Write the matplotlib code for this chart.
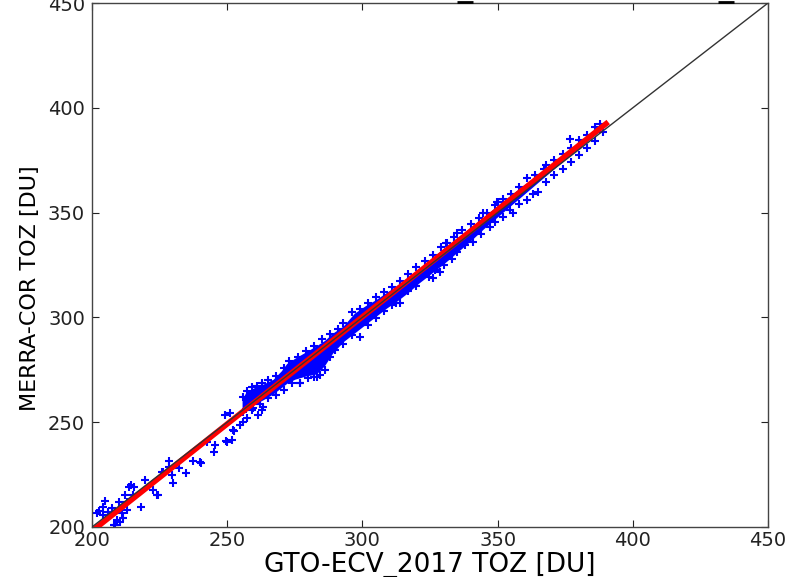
#!/usr/bin/env python3
"""
plot.py — GTO-ECV vs MERRA-COR total ozone scatter.
"""
import matplotlib
matplotlib.use("Agg")
import matplotlib.pyplot as plt

# dense core of the cloud (envelope)
band_x = [255.5, 257, 260, 263, 267, 270, 272, 275, 279, 283, 286, 289, 293, 297,
          301, 305, 309, 313, 317, 321, 325, 330, 335, 340, 345, 350, 355, 360,
          365, 370, 375, 380, 385, 388]
band_lo = [257.0, 256.5, 258.5, 260.5, 263.5, 266.5, 268.5, 270.5, 272.0, 273.0,
           277.0, 283.0, 288.5, 292.5, 296.5, 300.5, 304.5, 308.0, 312.0, 316.5,
           320.5, 325.5, 331.0, 336.5, 342.5, 348.0, 353.5, 359.0, 364.5, 370.0,
           375.5, 380.5, 386.0, 389.0]
band_hi = [261.0, 264.5, 266.5, 268.0, 270.5, 274.5, 278.0, 280.5, 283.5, 286.5,
           289.0, 292.5, 296.0, 302.0, 305.5, 308.5, 312.0, 315.5, 319.0, 323.0,
           327.5, 333.0, 338.0, 343.0, 348.0, 353.5, 358.5, 363.5, 368.0, 373.0,
           378.0, 383.0, 388.5, 391.5]

# individual points (sparse tail + fuzzy edges of the cloud)
pts_x = [201.7, 202.7, 204.8, 204.2, 206.0, 207.3, 209.1, 210.1, 211.0, 211.6,
         212.2, 213.8, 215.6, 215.3, 212.8, 218.3, 219.6, 222.7, 224.5, 226.2,
         228.5, 228.6, 229.5, 229.8, 232.3, 234.8, 237.2, 239.9, 242.4, 245.5,
         245.3, 249.8, 208.1, 210.4, 208.5, 204.2, 212.8, 214.5, 223.9, 225.8,
         240.2, 251.8, 254.7, 252.0, 252.6, 251.0, 249.2, 255.9, 257.2, 259.7,
         262.7, 263.3, 261.5, 249.6,
         256.0, 257.5, 259.0, 261.0, 263.0, 265.0, 268.0, 271.0, 273.0, 276.0,
         279.0, 282.0, 285.0, 288.0, 291.0, 293.0, 296.0, 299.0, 302.0, 305.0,
         308.0, 311.0, 314.0, 317.0, 320.0, 323.0, 326.0, 329.0, 331.0, 334.0,
         337.0, 340.0, 343.0, 346.0, 349.0, 350.0, 352.0, 355.0, 358.0, 361.0,
         364.0, 367.0, 368.0, 371.0, 374.0, 376.8, 377.0, 380.0, 383.0, 386.0,
         388.0,
         256.0, 259.0, 262.0, 265.0, 268.0, 271.0, 274.0, 277.0, 280.0, 282.0,
         284.3, 286.0, 288.0, 290.0, 293.0, 296.0, 299.1, 302.2, 305.0, 308.0,
         311.0, 313.9, 317.0, 320.0, 324.7, 327.0, 330.0, 333.0, 335.0, 337.9,
         341.0, 344.0, 347.0, 349.0, 352.0, 354.6, 355.8, 358.0, 360.7, 363.0,
         365.1, 368.0, 371.0, 374.0, 377.0, 380.0, 383.0, 386.0, 389.0,
         334.9, 331.2, 349.9, 344.7, 326.2, 328.7, 312.6, 276.9, 283.1]
pts_y = [206.5, 207.6, 212.5, 209.7, 207.3, 209.2, 203.3, 212.1, 206.5, 204.2,
         215.3, 218.9, 218.9, 215.3, 208.1, 209.4, 222.4, 217.7, 215.3, 226.4,
         231.6, 228.8, 224.8, 220.8, 228.0, 225.9, 231.6, 230.9, 240.7, 239.1,
         235.6, 240.7, 200.8, 202.5, 201.0, 205.7, 212.1, 219.9, 215.3, 226.4,
         230.7, 241.5, 248.7, 246.3, 245.8, 254.2, 253.4, 250.2, 251.9, 256.6,
         255.8, 257.4, 253.4, 241.0,
         262.0, 265.0, 267.0, 267.5, 268.5, 270.0, 272.0, 276.0, 279.0, 281.0,
         284.0, 286.5, 289.5, 292.0, 294.5, 297.5, 302.5, 304.0, 307.0, 309.5,
         312.0, 314.5, 317.5, 320.5, 324.0, 327.0, 330.0, 333.5, 335.5, 338.5,
         341.5, 344.5, 347.5, 350.0, 353.5, 355.2, 356.5, 359.0, 362.0, 366.4,
         368.0, 371.0, 372.7, 375.0, 378.0, 385.0, 381.0, 384.5, 387.0, 391.0,
         392.5,
         255.0, 256.0, 258.5, 261.5, 263.0, 265.5, 268.5, 268.6, 271.0, 271.7,
         272.5, 275.0, 281.0, 284.4, 287.5, 291.5, 290.8, 296.4, 299.5, 303.0,
         306.0, 306.7, 312.5, 315.0, 319.4, 322.5, 325.0, 328.0, 331.0, 334.5,
         336.0, 340.0, 343.0, 345.5, 348.0, 351.3, 349.7, 354.0, 356.0, 359.0,
         360.0, 364.5, 368.0, 371.0, 374.0, 377.5, 381.0, 384.0, 388.5,
         340.1, 335.4, 355.2, 349.7, 318.7, 321.8, 306.7, 268.6, 271.7]

# linear fit (end points)
fit_x = [199.0, 390.9]
fit_y = [197.0, 393.2]

# one-to-one reference
ref = [200, 450]

# two short dark marks sitting on the top frame
top_marks_x = [338.0, 434.5]
top_marks_y = [450.4, 450.4]

ticks = [200, 250, 300, 350, 400, 450]

fig = plt.figure(figsize=(8.07, 5.77), dpi=100)
ax = fig.add_axes([0.114, 0.0867, 0.8377, 0.9081])

ax.fill_between(band_x, band_lo, band_hi, color="blue", lw=0, zorder=1)
ax.plot(pts_x, pts_y, "b+", markersize=6, mew=1.5, zorder=2)
ax.plot(fit_x, fit_y, color="red", linewidth=4.0, solid_capstyle="butt", zorder=3)
ax.plot(ref, ref, color="#333333", linewidth=1.0, zorder=4)
ax.plot(top_marks_x, top_marks_y, "_", color="black", markersize=11, mew=2.0,
        clip_on=False, zorder=5)

ax.set_xlim(200, 450)
ax.set_ylim(200, 450)
ax.set_xticks(ticks)
ax.set_yticks(ticks)
ax.tick_params(axis="x", pad=3)
ax.tick_params(axis="y", pad=5)
ax.tick_params(direction="in", length=5, width=0.8, top=True, right=True,
               labelsize=14, colors="#222222")
for s in ax.spines.values():
    s.set_color("#444444")
    s.set_linewidth(1.0)

ax.set_xlabel("GTO-ECV_2017 TOZ [DU]", fontsize=19)
ax.xaxis.set_label_coords(0.5, -0.047)
ax.set_ylabel("MERRA-COR TOZ [DU]", fontsize=16)
ax.yaxis.set_label_coords(-0.077, 0.455)

plt.savefig("out.png", dpi=100)
